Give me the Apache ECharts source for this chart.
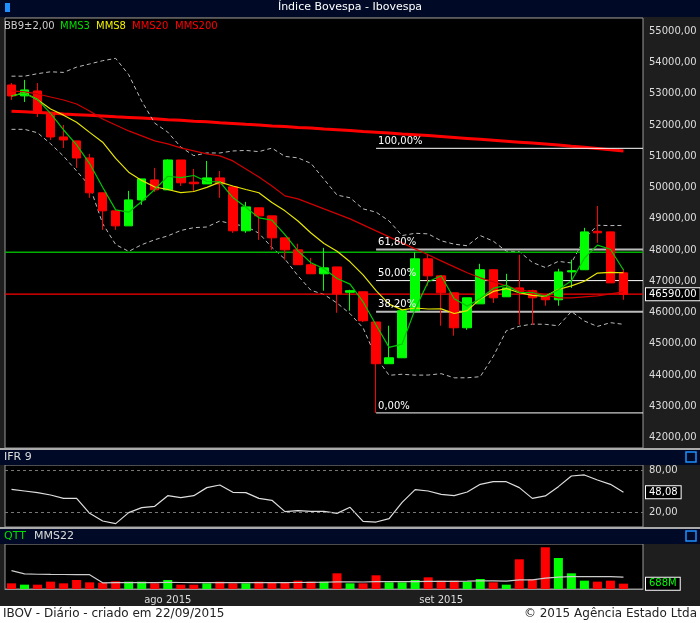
<!DOCTYPE html>
<html>
<head>
<meta charset="utf-8">
<script src="https://cdn.jsdelivr.net/npm/echarts@6/dist/echarts.min.js"></script>
<style>
  html, body { margin: 0; padding: 0; background: #1e1e1e; }
  #chart { width: 700px; height: 623px; }
</style>
</head>
<body>
<div id="chart"></div>
<script>
// dias de pregao (16/07 a 22/09/2015)
const dias = ['16/07','17/07','20/07','21/07','22/07','23/07','24/07','27/07','28/07','29/07','30/07','31/07',
  '03/08','04/08','05/08','06/08','07/08','10/08','11/08','12/08','13/08','14/08','17/08','18/08','19/08','20/08','21/08','24/08','25/08','26/08','27/08','28/08','31/08',
  '01/09','02/09','03/09','04/09','08/09','09/09','10/09','11/09','14/09','15/09','16/09','17/09','18/09','21/09','22/09'];

const abertura = [53278,52930,53087,52380,51617,51490,50945,49830,49253,48773,49604,50243,49924,50880,50170,50115,50307,50020,48614,49350,49093,48390,48006,47530,47240,47460,46650,46665,45700,44365,44555,46058,47720,47175,46633,45515,46280,47370,46505,46790,46700,46540,46410,47300,47370,48600,48580,47270];
const fechamento = [52927,53120,52380,51617,51520,50945,49830,49253,48773,49604,50275,49924,50880,50150,50120,50307,50115,48614,49380,49093,48390,48006,47530,47240,47430,46600,46700,45738,44365,44555,46058,47720,47175,46633,45515,46473,47370,46473,46790,46665,46473,46410,47300,47340,48580,48550,46950,46590];
const maximas = [53342,53440,53340,52380,52000,51490,51075,49830,49253,49892,50275,50627,50900,50880,50595,50850,50530,50020,49540,49350,49093,48390,48200,47750,48070,47460,46730,46665,45700,45580,46058,47940,47880,47175,46633,46473,47560,47370,47240,47850,46730,46540,47400,47690,48710,49410,48580,47400];
const minimas = [52800,52735,52255,51520,51265,50627,49670,48645,48645,48773,49445,49860,49924,50050,49860,50115,49670,48550,48550,48326,48006,47690,47530,47240,46700,45995,46060,45700,42792,44365,44555,46058,46856,45580,45260,45450,46280,46310,46505,45610,45610,46220,46220,46790,47370,48230,46950,46410];

// medias longas (historico anterior nao disponivel)
const mms20 = [53087,53055,52991,52895,52799,52671,52448,52192,52000,51809,51649,51489,51393,51266,51170,51074,51010,50850,50595,50339,50051,49732,49636,49476,49316,49157,48997,48805,48614,48422,48230,48038,47847,47655,47463,47272,47112,46984,46856,46728,46665,46569,46473,46473,46505,46537,46601,46665];
const mms200 = [52440,52420,52400,52380,52350,52330,52310,52290,52260,52240,52220,52200,52170,52150,52120,52100,52070,52050,52020,52000,51970,51950,51920,51900,51870,51850,51820,51790,51770,51740,51710,51690,51660,51630,51600,51570,51540,51510,51480,51450,51420,51390,51360,51320,51290,51250,51210,51170];
// bandas de Bollinger do inicio (antes de haver 9 pregoes)
const bbSupInicio = [53560, 53560, 53640, 53700, 53680, 53850, 53950];
const bbInfInicio = [51860, 51860, 51750, 51400, 51000, 50530, 50050];

const ifr9 = [52.4,50.0,47.6,44.3,39.5,39.5,18.1,7.2,3.4,19.1,26.2,28.1,43.3,40.5,43.3,54.8,58.6,48.1,47.6,39.5,36.7,20.5,21.9,21.0,21.0,18.1,26.7,6.7,5.7,10.5,33.8,51.9,50.0,45.2,43.3,48.6,59.5,63.3,63.3,54.8,39.5,42.9,56.2,71.4,72.9,65.7,59.5,48.08];

// volume em milhoes
const volume = [731,559,559,946,731,1161,860,817,989,946,946,731,1161,559,559,731,946,731,731,946,860,860,1075,946,
  946,2021,731,731,1763,860,860,1161,1505,1075,1075,946,1290,860,559,3827,1247,5375,3999,2021,1075,946,1075,688];
const mms22Inicio = [2370, 1950, 1900, 1880, 1870, 1860, 1850];

const fibTopo = 51253, fibFundo = 42792;
const fibNiveis = [1, 0.618, 0.5, 0.382, 0];
const fibRotulos = ['100,00%', '61,80%', '50,00%', '38,20%', '0,00%'];
const precoAtual = 46590;
const linhaVerde = 47930;
const precoTicks = [42000,43000,44000,45000,46000,47000,48000,49000,50000,51000,52000,53000,54000,55000];

function media(arr, n, i) {
  const ini = Math.max(0, i - n + 1);
  let s = 0;
  for (let k = ini; k <= i; k++) s += arr[k];
  return s / (i - ini + 1);
}
const mms3 = fechamento.map((v, i) => +media(fechamento, 3, i).toFixed(0));
const mms8 = fechamento.map((v, i) => +media(fechamento, 8, i).toFixed(0));
const bbSup = [], bbInf = [];
fechamento.forEach((v, i) => {
  if (i < bbSupInicio.length) { bbSup.push(bbSupInicio[i]); bbInf.push(bbInfInicio[i]); return; }
  const ini = Math.max(0, i - 8);
  const m = media(fechamento, 9, i);
  let s = 0;
  for (let k = ini; k <= i; k++) s += (fechamento[k] - m) ** 2;
  const dp = Math.sqrt(s / (i - ini + 1));
  bbSup.push(+(m + 2 * dp).toFixed(0));
  bbInf.push(+(m - 2 * dp).toFixed(0));
});
const mms22 = volume.map((v, i) => i < mms22Inicio.length ? mms22Inicio[i] : +media(volume, 22, i).toFixed(0));

const sobe = (i) => fechamento[i] >= abertura[i];
const cats = dias.concat(['']);
const velas = dias.map((d, i) => [abertura[i], fechamento[i], minimas[i], maximas[i]]);
const fibValores = fibNiveis.map(f => +(fibFundo + f * (fibTopo - fibFundo)).toFixed(0));

const chart = echarts.init(document.getElementById('chart'));
const fonte = 'DejaVu Sans';
const L = 5, R = 57;

const fibSeries = fibValores.map((v, k) => ({
  type: 'line', xAxisIndex: 3, yAxisIndex: 0, symbol: 'none', silent: true,
  lineStyle: { color: k === 1 || k === 3 ? '#bbbbbb' : '#ffffff', width: k === 1 || k === 3 ? 2 : 1 },
  data: [[28, v], [48.5, v]], z: 3
}));

const option = {
  backgroundColor: '#1e1e1e',
  animation: false,
  textStyle: { fontFamily: fonte },
  grid: [
    { left: L, right: R, top: 18, height: 430, show: true, backgroundColor: '#000', borderColor: '#999', borderWidth: 1 },
    { left: L, right: R, top: 465, height: 62, show: true, backgroundColor: '#000', borderColor: '#999', borderWidth: 1 },
    { left: L, right: R, top: 544, height: 45, show: true, backgroundColor: '#000', borderColor: '#999', borderWidth: 1 }
  ],
  xAxis: [
    { type: 'category', gridIndex: 0, data: cats, show: false, boundaryGap: true },
    { type: 'category', gridIndex: 1, data: cats, show: false, boundaryGap: true },
    { type: 'category', gridIndex: 2, data: cats, boundaryGap: true,
      axisLine: { lineStyle: { color: '#999' } },
      axisTick: { alignWithLabel: true, length: 4, lineStyle: { color: '#bbb' }, interval: (i) => i === 12 || i === 33 },
      axisLabel: { interval: (i) => i === 12 || i === 33, color: '#ddd', fontSize: 10, margin: 6,
        formatter: (v, i) => i === 12 ? 'ago 2015' : (i === 33 ? 'set 2015' : '') } },
    { type: 'value', gridIndex: 0, min: -0.5, max: 48.5, show: false }
  ],
  yAxis: [
    { type: 'value', gridIndex: 0, position: 'right', min: 41670, max: 55420, splitLine: { show: false },
      axisLine: { show: false }, axisTick: { show: false },
      axisLabel: { customValues: precoTicks, color: '#ddd', fontSize: 10, margin: 6,
        formatter: (v) => v.toFixed(0) + ',00' } },
    { type: 'value', gridIndex: 1, position: 'right', min: -1.4, max: 87.1,
      splitLine: { show: false }, axisLine: { show: false }, axisTick: { show: false },
      axisLabel: { customValues: [20, 80], color: '#ddd', fontSize: 10, margin: 6, formatter: (v) => v.toFixed(0) + ',00' } },
    { type: 'value', gridIndex: 2, position: 'right', min: 0, max: 5800,
      splitLine: { show: false }, axisLine: { show: false }, axisTick: { show: false }, axisLabel: { show: false } }
  ],
  series: [
    { name: 'MMS200', type: 'line', data: mms200, symbol: 'none', lineStyle: { color: '#ff0000', width: 3 }, z: 2 },
    { name: 'BBsup', type: 'line', data: bbSup, symbol: 'none', lineStyle: { color: '#bbbbbb', width: 1, type: [4, 3] }, z: 2 },
    { name: 'BBinf', type: 'line', data: bbInf, symbol: 'none', lineStyle: { color: '#bbbbbb', width: 1, type: [4, 3] }, z: 2 },
    { name: 'Fechamento', type: 'line', xAxisIndex: 3, symbol: 'none', silent: true,
      data: [[-0.5, linhaVerde], [48.5, linhaVerde]], lineStyle: { color: '#00b000', width: 1.5 }, z: 2 },
    { name: 'Atual', type: 'line', xAxisIndex: 3, symbol: 'none', silent: true,
      data: [[-0.5, precoAtual], [48.5, precoAtual]], lineStyle: { color: '#ff0000', width: 1.2 }, z: 2 },
    ...fibSeries,
    { name: 'IBOV', type: 'candlestick', data: velas, barWidth: 9,
      itemStyle: { color: '#00ff00', color0: '#ff0000', borderColor: '#00ff00', borderColor0: '#ff0000', borderColorDoji: '#ff0000', borderWidth: 1 }, z: 4 },
    { name: 'MMS20', type: 'line', data: mms20, symbol: 'none', lineStyle: { color: '#d00000', width: 1.2 }, z: 5 },
    { name: 'MMS8', type: 'line', data: mms8, symbol: 'none', lineStyle: { color: '#e6e600', width: 1.2 }, z: 5 },
    { name: 'MMS3', type: 'line', data: mms3, symbol: 'none', lineStyle: { color: '#00c800', width: 1.2 }, z: 5 },
    { name: 'IFR9', type: 'line', xAxisIndex: 1, yAxisIndex: 1, data: ifr9, symbol: 'none',
      lineStyle: { color: '#dddddd', width: 1.2 },
      markLine: { symbol: 'none', silent: true, label: { show: false },
        lineStyle: { color: '#777', type: [3, 3], width: 1 }, data: [{ yAxis: 20 }, { yAxis: 80 }] } },
    { name: 'QTT', type: 'bar', xAxisIndex: 2, yAxisIndex: 2, barWidth: 9,
      data: volume.map((v, i) => ({ value: v, itemStyle: { color: sobe(i) ? '#00ff00' : '#ff0000' } })) },
    { name: 'MMS22', type: 'line', xAxisIndex: 2, yAxisIndex: 2, data: mms22, symbol: 'none',
      lineStyle: { color: '#cccccc', width: 1.2 }, z: 5 }
  ]
};
chart.setOption(option);

// caixas, cabecalhos e rotulos desenhados por cima
const py = chart.convertToPixel({ yAxisIndex: 0 }, precoAtual);
const iy = chart.convertToPixel({ yAxisIndex: 1 }, ifr9[ifr9.length - 1]);
const vy = chart.convertToPixel({ yAxisIndex: 2 }, volume[volume.length - 1]);
const fx = chart.convertToPixel({ xAxisIndex: 3 }, 28);
function caixa(y, t, cor) {
  return { type: 'text', left: 645, top: y - 7, z: 20,
    style: { text: t, fill: cor, font: '10px ' + fonte, backgroundColor: '#000',
      borderColor: '#ffffff', borderWidth: 1, padding: [1, 3] } };
}
function barra(top, h) {
  return { type: 'rect', shape: { x: 0, y: top, width: 700, height: h }, style: { fill: '#000a26' }, z: 10 };
}
function icone(top) {
  return { type: 'rect', shape: { x: 686, y: top, width: 10, height: 10 }, style: { fill: 'none', stroke: '#1e90ff', lineWidth: 1.5 }, z: 11 };
}
const txt = (x, y, t, cor, tam) => ({ type: 'text', left: x, top: y, z: 12,
  style: { text: t, fill: cor, font: (tam || 10) + 'px ' + fonte } });

const rotFib = fibValores.map((v, k) =>
  txt(fx + 2, chart.convertToPixel({ yAxisIndex: 0 }, v) - 12, fibRotulos[k], '#ffffff', 10));

chart.setOption({ graphic: [
  barra(0, 17),
  txt('center', 2, 'Índice Bovespa - Ibovespa', '#ffffff', 11),
  { type: 'rect', shape: { x: 5, y: 3, width: 5, height: 9 }, style: { fill: '#1e90ff' }, z: 11 },
  txt(4, 21, 'BB9±2,00', '#cccccc'),
  txt(60, 21, 'MMS3', '#00dd00'),
  txt(96, 21, 'MMS8', '#f0f000'),
  txt(132, 21, 'MMS20', '#ff0000'),
  txt(175, 21, 'MMS200', '#ff0000'),
  ...rotFib,
  { type: 'rect', shape: { x: 0, y: 448, width: 700, height: 2 }, style: { fill: '#aaa' }, z: 10 },
  barra(450, 15), icone(452),
  txt(4, 452, 'IFR 9', '#dddddd', 11),
  { type: 'rect', shape: { x: 0, y: 527, width: 700, height: 2 }, style: { fill: '#aaa' }, z: 10 },
  barra(529, 15), icone(531),
  txt(4, 531, 'QTT', '#00dd00', 11),
  txt(34, 531, 'MMS22', '#dddddd', 11),
  { type: 'rect', shape: { x: 0, y: 606, width: 700, height: 17 }, style: { fill: '#ffffff' }, z: 10 },
  txt(3, 608, 'IBOV - Diário - criado em 22/09/2015', '#222222', 12),
  { type: 'text', right: 3, top: 608, z: 12, style: { text: '© 2015 Agência Estado Ltda', fill: '#222', font: '12px ' + fonte } },
  caixa(py, '46590,00', '#ffffff'),
  caixa(iy, '48,08', '#ffffff'),
  caixa(vy, '688M', '#00ff00')
]});
</script>
</body>
</html>
